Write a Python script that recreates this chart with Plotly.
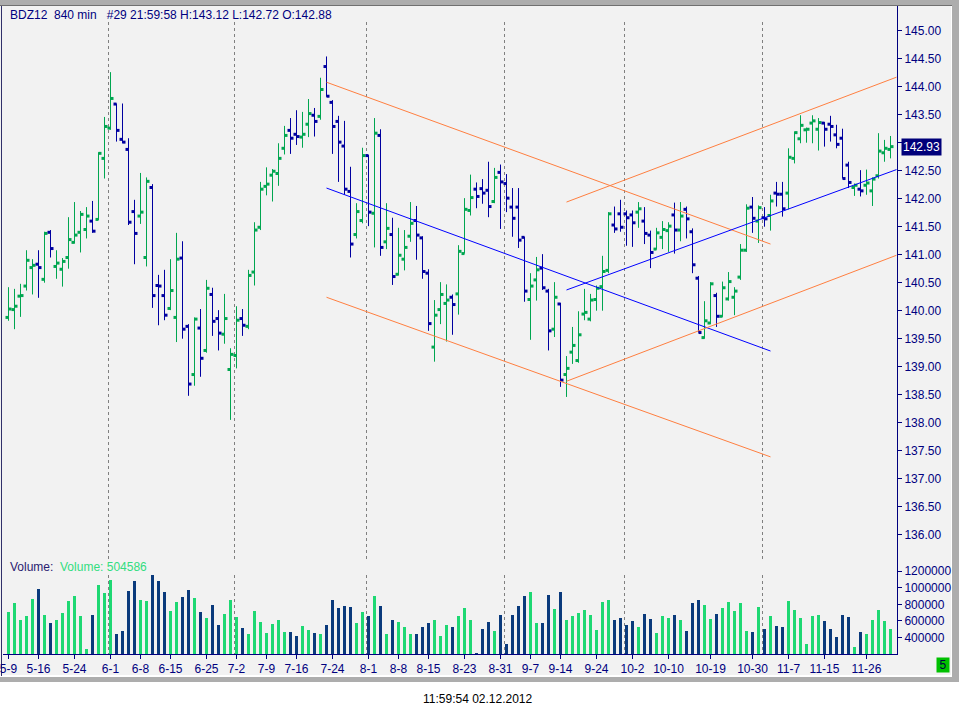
import plotly.graph_objects as go

# BDZ12, 840 min bars, one bar per business day 2012-05-09 .. 2012-11-30
open_ = [
    139.88, 140.02, 140.26, 140.44, 140.77, 140.83, 140.56, 141.40, 140.79, 140.74,
    140.95, 141.22, 141.40, 141.45, 141.60, 141.63, 142.72, 143.26, 143.69, 143.06,
    142.88, 141.77, 141.69, 140.95, 142.20, 140.45, 140.27, 140.04, 139.88, 140.94,
    139.72, 138.86, 139.69, 139.29, 140.29, 139.86, 139.58, 138.95, 139.20, 139.86,
    139.72, 140.69, 141.49, 142.22, 142.42, 142.45, 142.90, 143.22, 143.15, 143.10,
    143.33, 143.49, 143.47, 144.36, 143.72, 143.38, 142.94, 142.13, 141.36, 141.61,
    142.77, 141.74, 143.13, 141.23, 141.36, 140.65, 140.92, 141.33, 141.61, 141.30,
    140.67, 139.35, 140.02, 140.13, 140.24, 140.30, 141.02, 141.79, 142.17, 142.18,
    142.15, 141.95, 142.47, 142.27, 141.85, 141.85, 141.31, 140.20, 140.55, 140.76,
    140.35, 139.67, 140.12, 138.86, 139.26, 139.11, 139.94, 139.85, 140.20, 140.43,
    140.72, 141.53, 141.73, 141.73, 141.71, 141.76, 141.60, 141.35, 141.10, 141.31,
    141.43, 141.71, 141.44, 141.81, 141.41, 140.58, 139.52, 139.78, 140.27, 139.90,
    140.21, 140.24, 140.60, 141.08, 141.85, 141.60, 141.66, 141.70, 142.10, 142.08,
    142.10, 142.72, 143.07, 143.23, 143.35, 143.24, 143.35, 143.33, 143.14, 143.08,
    142.60, 142.20, 142.17, 142.24, 142.14, 142.41, 142.82, 142.88,
]
high = [
    140.42, 140.39, 140.48, 141.08, 140.92, 141.08, 141.41, 141.44, 141.08, 140.94,
    141.67, 141.94, 141.78, 141.85, 141.96, 142.83, 143.46, 144.26, 143.70, 143.70,
    143.08, 141.98, 142.46, 142.38, 142.26, 140.64, 140.73, 140.92, 141.39, 141.24,
    139.76, 139.88, 140.03, 140.55, 140.41, 140.01, 140.30, 139.33, 140.08, 140.03,
    140.73, 141.58, 142.30, 142.56, 142.53, 142.99, 143.30, 143.44, 143.58, 143.55,
    143.78, 143.62, 144.16, 144.54, 143.76, 143.48, 143.39, 142.57, 141.92, 142.91,
    142.78, 143.44, 143.24, 141.92, 141.66, 141.48, 141.44, 141.94, 141.87, 141.33,
    140.74, 140.19, 140.51, 140.47, 140.29, 141.17, 142.01, 142.43, 142.29, 142.35,
    142.66, 142.55, 142.61, 142.44, 142.19, 142.19, 141.32, 140.67, 140.96, 141.01,
    140.39, 140.51, 140.14, 139.19, 139.71, 139.99, 140.39, 140.30, 140.45, 140.98,
    141.76, 141.86, 141.98, 141.79, 141.79, 141.94, 141.85, 141.43, 141.48, 141.60,
    141.58, 141.93, 141.94, 141.86, 141.47, 140.62, 140.17, 140.51, 140.32, 140.52,
    140.69, 140.42, 141.19, 141.90, 142.03, 141.88, 141.85, 142.07, 142.30, 142.30,
    142.90, 143.20, 143.49, 143.27, 143.49, 143.44, 143.37, 143.48, 143.32, 143.25,
    142.66, 142.27, 142.51, 142.52, 142.38, 143.17, 143.05, 143.12,
]
low = [
    139.82, 139.67, 139.89, 140.36, 140.29, 140.23, 140.50, 140.95, 140.57, 140.43,
    140.75, 141.20, 141.04, 141.29, 141.39, 141.62, 142.36, 143.23, 143.02, 142.99,
    141.53, 140.83, 141.55, 140.79, 140.05, 139.74, 139.83, 140.01, 139.44, 139.50,
    138.48, 138.66, 138.82, 139.25, 139.55, 139.29, 139.41, 138.05, 138.97, 139.55,
    139.67, 140.45, 141.44, 142.06, 141.95, 142.23, 142.79, 142.80, 142.96, 142.91,
    143.10, 143.11, 143.41, 143.82, 142.80, 142.30, 142.07, 140.95, 141.29, 141.56,
    141.51, 141.13, 140.98, 141.10, 140.46, 140.63, 140.72, 141.23, 140.91, 140.57,
    139.64, 139.09, 139.76, 139.45, 139.57, 139.93, 141.02, 141.70, 141.83, 141.91,
    141.67, 141.92, 141.46, 141.76, 141.32, 141.12, 140.16, 139.48, 140.18, 140.37,
    139.29, 139.53, 138.64, 138.46, 139.05, 139.07, 139.83, 139.81, 140.00, 140.00,
    140.67, 141.39, 141.41, 141.16, 141.14, 141.48, 141.19, 140.76, 141.09, 141.10,
    141.05, 141.02, 141.24, 141.29, 140.67, 139.61, 139.50, 139.76, 139.71, 139.89,
    140.18, 139.92, 140.55, 141.05, 141.39, 141.21, 141.50, 141.43, 141.86, 141.68,
    141.81, 142.63, 142.99, 143.00, 142.99, 142.86, 142.93, 143.02, 142.90, 142.36,
    142.19, 142.05, 142.04, 142.07, 141.87, 142.36, 142.66, 142.72,
]
close = [
    140.03, 140.08, 140.27, 140.90, 140.81, 140.77, 141.38, 141.11, 140.85, 140.88,
    141.27, 141.35, 141.72, 141.69, 141.42, 142.81, 143.29, 143.79, 143.22, 143.01,
    141.58, 141.38, 141.76, 142.31, 140.27, 140.44, 139.92, 140.36, 140.92, 139.67,
    138.69, 139.85, 139.15, 140.40, 139.81, 139.60, 139.86, 139.22, 139.83, 139.74,
    140.63, 141.44, 142.17, 142.26, 142.49, 142.72, 143.13, 143.08, 143.11, 143.15,
    143.52, 143.38, 143.95, 143.83, 143.29, 143.01, 142.17, 141.19, 141.77, 142.77,
    141.76, 143.17, 141.13, 141.47, 140.61, 140.99, 141.13, 141.56, 141.35, 140.70,
    139.77, 139.92, 140.29, 140.19, 140.11, 141.06, 141.81, 142.02, 142.04, 142.10,
    141.86, 142.38, 142.30, 142.01, 141.65, 141.26, 140.35, 140.44, 140.73, 140.41,
    139.64, 140.24, 138.76, 138.97, 139.38, 139.57, 139.97, 140.19, 140.40, 140.70,
    141.73, 141.46, 141.49, 141.66, 141.57, 141.82, 141.38, 141.04, 141.39, 141.45,
    141.51, 141.44, 141.69, 141.64, 140.82, 139.61, 139.82, 140.48, 139.90, 140.41,
    140.52, 140.35, 141.08, 141.83, 141.65, 141.84, 141.64, 141.96, 142.08, 141.82,
    142.74, 143.18, 143.31, 143.24, 143.39, 143.36, 143.24, 143.29, 142.97, 142.36,
    142.29, 142.24, 142.14, 142.28, 142.35, 142.85, 142.90, 142.93,
]
volume = [
    708000, 816000, 608000, 656000, 860000, 980000, 668000, 572000, 608000, 692000,
    836000, 896000, 656000, 260000, 668000, 1028000, 936000, 1088000, 440000, 476000,
    956000, 1076000, 848000, 836000, 1148000, 1076000, 944000, 716000, 824000, 884000,
    968000, 872000, 704000, 632000, 788000, 548000, 680000, 848000, 644000, 512000,
    440000, 716000, 584000, 452000, 560000, 608000, 464000, 464000, 416000, 536000,
    488000, 452000, 440000, 548000, 848000, 752000, 776000, 764000, 572000, 704000,
    656000, 896000, 776000, 440000, 608000, 584000, 524000, 440000, 440000, 524000,
    572000, 608000, 416000, 548000, 524000, 656000, 752000, 608000, 215000, 500000,
    584000, 476000, 668000, 320000, 668000, 776000, 896000, 944000, 572000, 572000,
    908000, 740000, 944000, 608000, 656000, 692000, 728000, 668000, 488000, 824000,
    848000, 608000, 632000, 548000, 596000, 524000, 680000, 620000, 452000, 656000,
    632000, 668000, 608000, 476000, 812000, 848000, 788000, 620000, 680000, 752000,
    824000, 716000, 812000, 476000, 464000, 764000, 500000, 656000, 536000, 524000,
    836000, 728000, 632000, 320000, 656000, 668000, 596000, 500000, 404000, 668000,
    644000, 284000, 464000, 440000, 608000, 728000, 596000, 504586,
]

tick_bars = [0, 5, 11, 17, 22, 27, 33, 38, 43, 48, 54, 60, 65, 70, 76,
             82, 87, 92, 98, 104, 110, 117, 124, 130, 136, 143]
tick_labels = ["5-9", "5-16", "5-24", "6-1", "6-8", "6-15", "6-25", "7-2", "7-9",
               "7-16", "7-24", "8-1", "8-8", "8-15", "8-23", "8-31", "9-7", "9-14",
               "9-24", "10-2", "10-10", "10-19", "10-30", "11-7", "11-15", "11-26"]
month_start_bars = [17, 38, 60, 83, 103, 126]

price_ticks = [136.0, 136.5, 137.0, 137.5, 138.0, 138.5, 139.0, 139.5, 140.0, 140.5,
               141.0, 141.5, 142.0, 142.5, 143.0, 143.5, 144.0, 144.5, 145.0]
volume_ticks = [400000, 600000, 800000, 1000000, 1200000]

# hand drawn channels (start bar, end bar) and prices at both ends
down_bars = [53, 127]
down_top = [144.08, 141.19]
down_mid = [142.19, 139.28]
down_bot = [140.24, 137.39]
up_bars = [93, 148]
up_top = [141.94, 144.17]
up_mid = [140.37, 142.52]
up_bot = [138.74, 140.99]

NAVY = "#00007f"
GREEN = "#00a650"
BLUE = "#0000a0"
VGREEN = "#1ed873"
VBLUE = "#0a3a7c"
ORANGE = "#ff7f40"
LINEBLUE = "#0000ff"
FONT = "Liberation Sans, Arial, sans-serif"

W, H = 959, 716
ML, MR, MT, MB = 3, 62, 6, 62
PW, PH = W - ML - MR, H - MT - MB


def px_x(px):
    return (px - ML) / PW


def px_y(py):
    return (H - MB - py) / PH


bars = list(range(len(close)))
up = [c >= o for o, c in zip(open_, close)]

fig = go.Figure()

for is_up, color in ((True, GREEN), (False, BLUE)):
    idx = [i for i in bars if up[i] == is_up]
    xs, ys = [], []
    for i in idx:
        xs += [i, i, None]
        ys += [low[i], high[i], None]
    fig.add_trace(go.Scatter(x=xs, y=ys, mode="lines",
                             line=dict(color=color, width=1), hoverinfo="skip"))
    fig.add_trace(go.Scatter(x=[i - 0.25 for i in idx], y=[open_[i] for i in idx],
                             mode="markers",
                             marker=dict(symbol="square", size=3, color=color)))
    fig.add_trace(go.Scatter(x=[i + 0.25 for i in idx], y=[close[i] for i in idx],
                             mode="markers",
                             marker=dict(symbol="square", size=3, color=color)))

for xs, ys, color in ((down_bars, down_top, ORANGE), (down_bars, down_bot, ORANGE),
                      (down_bars, down_mid, LINEBLUE), (up_bars, up_top, ORANGE),
                      (up_bars, up_bot, ORANGE), (up_bars, up_mid, LINEBLUE)):
    fig.add_trace(go.Scatter(x=xs, y=ys, mode="lines", line=dict(color=color, width=1)))

fig.add_trace(go.Bar(x=bars, y=volume, width=0.5, yaxis="y2",
                     marker=dict(color=[VGREEN if u else VBLUE for u in up], line_width=0)))

# window frame and background
shapes = [
    dict(type="rect", xref="paper", yref="paper", x0=px_x(0), x1=px_x(951),
         y0=px_y(6), y1=px_y(675), fillcolor="#f2f2f2", line_width=0, layer="below"),
    dict(type="rect", xref="paper", yref="paper", x0=px_x(0), x1=px_x(959),
         y0=px_y(0), y1=px_y(5), fillcolor="#adadad", line_width=0, layer="below"),
    dict(type="rect", xref="paper", yref="paper", x0=px_x(952), x1=px_x(959),
         y0=px_y(0), y1=px_y(682), fillcolor="#adadad", line_width=0, layer="below"),
    dict(type="rect", xref="paper", yref="paper", x0=px_x(0), x1=px_x(959),
         y0=px_y(677), y1=px_y(682), fillcolor="#adadad", line_width=0, layer="below"),
    dict(type="line", xref="paper", yref="paper", x0=px_x(0), x1=px_x(952),
         y0=px_y(5.5), y1=px_y(5.5), line=dict(color="#707070", width=1), layer="below"),
    dict(type="line", xref="paper", yref="paper", x0=px_x(1.5), x1=px_x(1.5),
         y0=px_y(6), y1=px_y(676), line=dict(color="#30306a", width=1), layer="below"),
]
for b in month_start_bars:
    for top, bottom in ((22, 559), (575, 654)):
        shapes.append(dict(type="line", xref="x", yref="paper", x0=b - 0.333, x1=b - 0.333,
                           y0=px_y(top), y1=px_y(bottom),
                           line=dict(color="#808080", width=1, dash="dot"), layer="below"))

header = ("BDZ12\u00a0\u00a0840 min\u00a0\u00a0\u00a0#29 21:59:58 "
          f"H:{high[-1]:.2f} L:{low[-1]:.2f} O:{open_[-1]:.2f}")

annotations = [
    dict(text=header, xref="paper", yref="paper", x=px_x(8), y=px_y(15),
         xanchor="left", yanchor="middle", showarrow=False, font=dict(color=NAVY, size=12)),
    dict(text=f"Volume:\u00a0\u00a0<span style='color:#33dd80'>Volume: {volume[-1]}</span>",
         xref="paper", yref="paper", x=px_x(8), y=px_y(567),
         xanchor="left", yanchor="middle", showarrow=False, font=dict(color="#2a2070", size=12)),
    dict(text=f"{close[-1]:.2f}", xref="paper", yref="y", x=px_x(900.5), y=close[-1],
         xanchor="left", yanchor="middle", showarrow=False, bgcolor="#00007a",
         borderpad=1, font=dict(color="white", size=12)),
    dict(text="5", xref="paper", yref="paper", x=px_x(943), y=px_y(664.5),
         xanchor="center", yanchor="middle", showarrow=False, bgcolor="#00c000",
         width=10, height=12, borderpad=1, font=dict(color="#000040", size=12)),
    dict(text="11:59:54 02.12.2012", xref="paper", yref="paper", x=px_x(421), y=px_y(699),
         xanchor="left", yanchor="middle", showarrow=False, font=dict(color="black", size=12)),
]

# the last-price box hides the 143.00 label, as on the terminal
price_text = ["" if abs(t - close[-1]) < 0.2 else f"{t:.2f}" for t in price_ticks]

price_dom = px_y(558)
p_top = 145.0 + (30.7 - MT) / 56.0
p_bot = p_top - (558 - MT) / 56.0
v_bot = 203000
v_top = v_bot + (H - MB - 558) * 12012

fig.update_layout(
    width=W, height=H,
    margin=dict(l=ML, r=MR, t=MT, b=MB, pad=0),
    template="none",
    paper_bgcolor="white",
    plot_bgcolor="rgba(0,0,0,0)",
    showlegend=False,
    hovermode=False,
    bargap=0,
    font=dict(family=FONT, size=12, color=NAVY),
    shapes=shapes,
    annotations=annotations,
    xaxis=dict(range=[-(8.5 - ML) / 6.0, -(8.5 - ML) / 6.0 + PW / 6.0], anchor="y2",
               showgrid=False, zeroline=False, showline=True, linecolor=NAVY, linewidth=1,
               ticks="outside", ticklen=4, tickcolor=NAVY, tickwidth=1,
               ticklabeloverflow="allow",
               tickvals=tick_bars, ticktext=tick_labels, tickfont=dict(color=NAVY, size=12)),
    yaxis=dict(domain=[price_dom, 1], range=[p_bot, p_top], side="right", anchor="x",
               showgrid=False, zeroline=False, showline=True, linecolor=NAVY, linewidth=1,
               ticks="outside", ticklen=4, tickcolor=NAVY, tickvals=price_ticks,
               ticktext=price_text, tickfont=dict(color=NAVY, size=12)),
    yaxis2=dict(domain=[0, price_dom], range=[v_bot, v_top], side="right", anchor="x",
                showgrid=False, zeroline=False, showline=True, linecolor=NAVY, linewidth=1,
                ticks="outside", ticklen=4, tickcolor=NAVY, tickvals=volume_ticks,
                tickformat="d", tickfont=dict(color=NAVY, size=12)),
)

fig.write_html("out.html", config={"displayModeBar": False},
               post_script="document.body.style.margin='0';")
